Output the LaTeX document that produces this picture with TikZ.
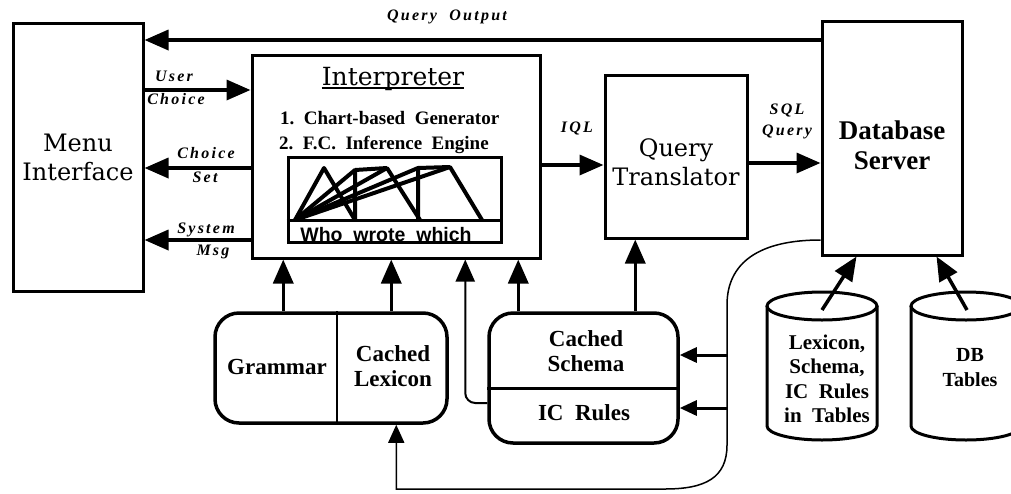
\documentclass[tikz,border=0pt]{standalone}
\usepackage{fontspec}
\setmainfont{Liberation Serif}
\newfontfamily\dvs{DejaVu Serif}
\newfontfamily\lblf[LetterSpace=14]{Liberation Serif}
\newfontfamily\sansb{Liberation Sans}
\usetikzlibrary{arrows.meta,calc}
\begin{document}
\begin{tikzpicture}[x=1pt,y=-1pt,
  box/.style={draw, line width=3pt, inner sep=0pt},
  rbox/.style={draw, line width=3.5pt, rounded corners=24pt, inner sep=0pt},
  arr/.style={line width=3.5pt, -{Triangle[length=24pt,width=20pt]}},
  sarr/.style={line width=3pt, -{Triangle[length=17pt,width=15pt]}},
  tarr/.style={line width=2pt, -{Triangle[length=22pt,width=19pt]}},
  larr/.style={line width=1.5pt, -{Triangle[length=18pt,width=16pt]}},
  zig/.style={line width=4pt, line join=round},
  lbl/.style={font=\lblf\bfseries\itshape\fontsize{16}{18}\selectfont, inner sep=0pt, align=center},
  big/.style={font=\dvs\fontsize{24}{29}\selectfont, align=center, inner sep=0pt},
  bld/.style={font=\bfseries\fontsize{23}{25}\selectfont, align=center, inner sep=0pt},
  cyltxt/.style={font=\bfseries\fontsize{21}{24.5}\selectfont, align=center, inner sep=0pt},
  cylline/.style={line width=3pt},
]
\useasboundingbox (0,0) rectangle (1011,493);
\clip (0,0) rectangle (1011,493);

% main boxes
\node[box, minimum width=130pt, minimum height=268pt, big] (menu) at (78,157) {Menu\\Interface};
\node[box, minimum width=288pt, minimum height=203pt] (interp) at (396,156.5) {};
\node[box, minimum width=142pt, minimum height=163pt] (qt) at (676,156.5) {};
\node[box, minimum width=140pt, minimum height=234pt] (db) at (892,138) {};

% interpreter contents
\node[font=\dvs\fontsize{25}{29}\selectfont, inner sep=0pt, anchor=base] (ttl) at (393,85) {Interpreter};
\draw[line width=2pt] ([yshift=-3pt]ttl.base west) -- ([yshift=-3pt]ttl.base east);
\node[font=\bfseries\fontsize{19}{25}\selectfont, inner sep=0pt, anchor=base west] (l1) at (280,124) {1.~~Chart-based~~Generator};
\node[font=\bfseries\fontsize{19}{25}\selectfont, inner sep=0pt, anchor=base west] (l2) at (279,149) {2.~~F.C.~~Inference~~Engine};
\node[box, minimum width=213pt, minimum height=85pt] (chart) at (394.5,199.5) {};
\draw[line width=3pt] (chart.west |- 0,220) -- (chart.east |- 0,220);
\node[font=\sansb\bfseries\fontsize{19.5}{24}\selectfont, inner sep=0pt] (who) at (386,235) {Who~~wrote~~which};
\draw[zig] (295,220) -- (324,168) -- (355,220);
\draw[zig] (295,220) -- (355,170) -- (355,220);
\draw[zig] (295,220) -- (387,168) -- (420,220);
\draw[zig] (295,220) -- (418,168) -- (418,220);
\draw[zig] (295,220) -- (450,167) -- (482,220);
\draw[zig] (355,170) -- (387,168);
\draw[zig] (418,168) -- (450,167);

% texts of other boxes
\node[big] (qtt) at (676,162.5) {Query\\Translator};
\node[font=\bfseries\fontsize{27}{30}\selectfont, align=center, inner sep=0pt] (dbt) at (892,145) {Database\\Server};

% grammar / lexicon
\node[rbox, minimum width=232pt, minimum height=110pt] (gl) at (331,368) {};
\draw[line width=2pt] ([xshift=124pt]gl.north west) -- ([xshift=124pt]gl.south west);
\node[bld] (gram) at (277,367) {Grammar};
\node[bld] (lex) at (393,366) {Cached\\Lexicon};

% cached schema / IC rules
\node[rbox, minimum width=189pt, minimum height=130pt] (cs) at (583.5,378) {};
\draw[line width=3pt] ([yshift=-10pt]cs.west) -- ([yshift=-10pt]cs.east);
\node[bld] (sch) at (586,351) {Cached\\Schema};
\node[bld] (icr) at (584,413) {IC~~Rules};

% cylinders
\draw[cylline] (822,306) ellipse [x radius=55pt, y radius=14pt];
\draw[cylline] (767,306) -- (767,426) arc[start angle=180, end angle=360, x radius=55pt, y radius=14pt] -- (877,306);
\draw[cylline] (966,306) ellipse [x radius=55pt, y radius=14pt];
\draw[cylline] (911,306) -- (911,426) arc[start angle=180, end angle=360, x radius=55pt, y radius=14pt] -- (1021,306);
\node[cyltxt] (cyl1) at (827,379) {Lexicon,\\Schema,\\IC~~Rules\\in~~Tables};
\node[cyltxt, font=\bfseries\fontsize{20}{25}\selectfont] (cyl2) at (970,368) {DB\\Tables};
\coordinate (c1top) at (822,310);
\coordinate (c2top) at (967,310);

% coordinates for arrows
\coordinate (yQO) at (0,40);
\coordinate (yUC) at (0,90);
\coordinate (yCS) at (0,168);
\coordinate (ySM) at (0,240);
\coordinate (yIQ) at (0,165);
\coordinate (ySQ) at (0,163);

% arrows between main boxes
\draw[arr] (db.west |- yQO) -- (menu.east |- yQO);
\draw[arr] (menu.east |- yUC) -- (interp.west |- yUC);
\draw[arr] (interp.west |- yCS) -- (menu.east |- yCS);
\draw[arr] (interp.west |- ySM) -- (menu.east |- ySM);
\draw[arr] (interp.east |- yIQ) -- (qt.west |- yIQ);
\draw[arr] (qt.east |- ySQ) -- (db.west |- ySQ);

% arrows up into interpreter
\coordinate (g1) at ([xshift=70pt]gl.north west);
\coordinate (g2) at ([xshift=178pt]gl.north west);
\coordinate (s1) at ([xshift=31pt]cs.north west);
\coordinate (s2) at ([xshift=148pt]cs.north west);
\draw[arr] (g1) -- (g1 |- interp.south);
\draw[arr] (g2) -- (g2 |- interp.south);
\draw[arr] (s1) -- (s1 |- interp.south);
\draw[arr] (s2) -- (s2 |- qt.south);
\coordinate (icL) at ([yshift=-25pt]cs.west);
\coordinate (icX) at ([xshift=-22pt]icL);
\draw[tarr, rounded corners=10pt] (icL) -| (icX |- interp.south);

% cylinders to database server
\draw[arr] (c1top) -- ([xshift=36pt]db.south west);
\draw[arr] (c2top) -- ([xshift=-27pt]db.south east);

% feedback curve from database server
\coordinate (dbC) at (db.west |- 0,240);
\coordinate (lexB) at ([xshift=183pt]gl.south west);
\draw[larr] (dbC) .. controls (760,240) and (727,262) .. (727,305) -- (727,445)
  .. controls (727,478) and (705,489) .. (665,489) -- (lexB |- 0,489) -- (lexB);
\coordinate (v1) at (727,355);
\coordinate (v2) at (727,408);
\draw[sarr] (v1) -- (v1 -| cs.east);
\draw[sarr] (v2) -- (v2 -| cs.east);

% labels
\node[lbl] (qo) at (447,17) {Query~~Output};
\node[lbl] (uc1) at (174,76) {User};
\node[lbl] (uc2) at (176,99) {Choice};
\node[lbl] (cs1) at (206,153) {Choice};
\node[lbl] (cs2) at (205,177) {Set};
\node[lbl] (sm1) at (206,230) {System};
\node[lbl] (sm2) at (213,252) {Msg};
\node[lbl] (iql) at (577,128) {IQL};
\node[lbl] (sql1) at (787,110) {SQL};
\node[lbl] (sql2) at (787,132) {Query};
\end{tikzpicture}
\end{document}
